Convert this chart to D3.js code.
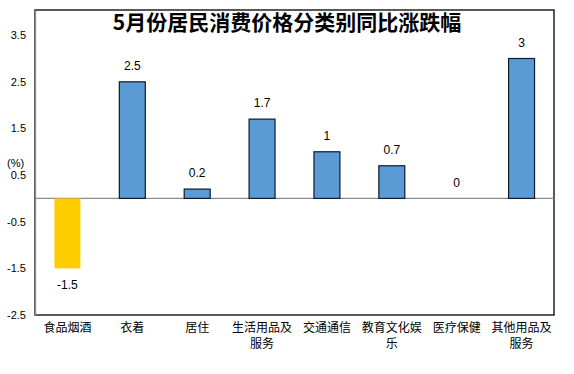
<!DOCTYPE html>
<html>
<head>
<meta charset="utf-8">
<script src="https://cdn.jsdelivr.net/npm/d3@7"></script>
<style>
    body { margin: 0; background: #fff; }
    text { font-family: "Liberation Sans", "Noto Sans CJK SC", sans-serif; }
</style>
</head>
<body>
<script>
"use strict";
(function(){
    // data
    const categories = ["食品烟酒", "衣着", "居住", "生活用品及服务", "交通通信", "教育文化娱乐", "医疗保健", "其他用品及服务"]
    const values = [-1.5, 2.5, 0.2, 1.7, 1, 0.7, 0, 3]
    const yTicks = [-2.5, -1.5, -0.5, 0.5, 1.5, 2.5, 3.5]
    const title = "5月份居民消费价格分类别同比涨跌幅"

    // dimensions for svg
    const measurements = {
        width: 574,
        height: 374,
        left: 35,
        right: 554,
        top: 10,
        bottom: 315
    }

    let svgContainer = d3.select('body').append("svg")
        .attr('width', measurements.width)
        .attr('height', measurements.height)

    let scaleX = d3.scaleBand()
        .domain(categories)
        .range([measurements.left, measurements.right])
        .paddingInner(0.6)
        .paddingOuter(0.3)

    let scaleY = d3.scaleLinear()
        .domain([-2.5, 4.04])
        .range([measurements.bottom, measurements.top])

    // plot frame
    svgContainer.append('rect')
        .attr('x', measurements.left)
        .attr('y', measurements.top)
        .attr('width', measurements.right - measurements.left)
        .attr('height', measurements.bottom - measurements.top)
        .attr('fill', 'none')
        .attr('stroke', '#000')
        .attr('stroke-width', 1.3)

    // zero line
    svgContainer.append('line')
        .attr('x1', measurements.left)
        .attr('x2', measurements.right)
        .attr('y1', scaleY(0))
        .attr('y2', scaleY(0))
        .attr('stroke', '#8c8c8c')
        .attr('stroke-width', 1.3)

    // y axis
    let yAxis = d3.axisLeft(scaleY)
        .tickValues(yTicks)
        .tickSize(0)
        .tickSizeOuter(0)
        .tickPadding(9)
        .tickFormat(d => String(d))

    let yG = svgContainer.append('g')
        .attr('transform', 'translate(' + measurements.left + ',0)')
        .call(yAxis)
    yG.select('.domain').attr('stroke', '#8c8c8c').attr('stroke-width', 1.3)
    yG.selectAll('text')
        .attr('font-size', 11)
        .attr('fill', '#000')
        .style('font-family', '"Liberation Sans", sans-serif')

    svgContainer.append('text')
        .attr('x', 7)
        .attr('y', 167)
        .attr('font-size', 11)
        .text("(%)")

    // bars
    svgContainer.selectAll('.bar')
        .data(values)
        .enter()
        .append('rect')
            .attr('class', 'bar')
            .attr('x', (d, i) => scaleX(categories[i]))
            .attr('y', d => scaleY(Math.max(0, d)))
            .attr('width', scaleX.bandwidth())
            .attr('height', d => Math.abs(scaleY(d) - scaleY(0)))
            .attr('fill', d => d < 0 ? '#ffcc00' : '#5b9bd5')
            .attr('stroke', d => d < 0 ? 'none' : '#0d1a2a')
            .attr('stroke-width', 1.2)

    // value labels
    svgContainer.selectAll('.val')
        .data(values)
        .enter()
        .append('text')
            .attr('class', 'val')
            .attr('x', (d, i) => scaleX(categories[i]) + scaleX.bandwidth() / 2)
            .attr('y', d => d < 0 ? scaleY(d) + 16 : scaleY(d) - 16)
            .attr('dy', '0.35em')
            .attr('text-anchor', 'middle')
            .attr('font-size', 12)
            .text(d => String(d))

    // category labels, wrapped at five characters
    categories.forEach(function(c, i) {
        let lines = []
        for (let k = 0; k < c.length; k += 5) lines.push(c.slice(k, k + 5))
        let t = svgContainer.append('text')
            .attr('text-anchor', 'middle')
            .attr('font-size', 12)
            .style('font-family', '"Noto Sans CJK SC", sans-serif')
        lines.forEach(function(line, j) {
            t.append('tspan')
                .attr('x', scaleX(c) + scaleX.bandwidth() / 2)
                .attr('y', 332 + j * 16)
                .text(line)
        })
    })

    // title
    svgContainer.append('text')
        .attr('x', 287)
        .attr('y', 30)
        .attr('text-anchor', 'middle')
        .attr('font-size', 21)
        .attr('font-weight', 'bold')
        .style('font-family', '"Noto Sans CJK SC", sans-serif')
        .text(title)
})()
</script>
</body>
</html>
